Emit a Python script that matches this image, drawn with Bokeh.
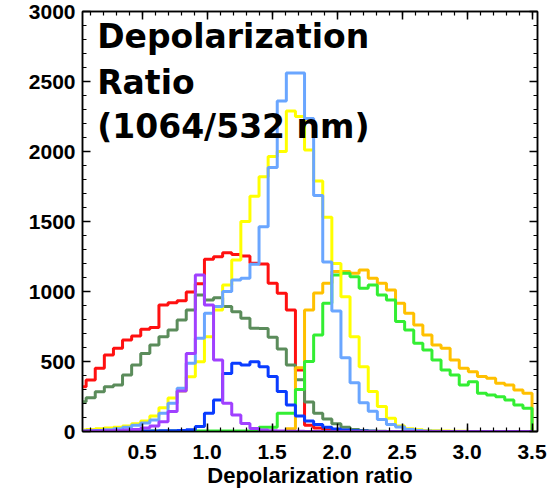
import numpy as np
from bokeh.plotting import figure
from bokeh.models import (LinearAxis, SingleIntervalTicker, NumeralTickFormatter, Range1d, Label,
                          CustomJSTickFormatter)
from bokeh.embed import file_html
from bokeh.resources import INLINE

# histogram bin edges (depolarization ratio), bin width 0.07
bin_width = 0.07
n_bins = 50
edges = np.round(np.arange(n_bins + 1) * bin_width, 3)

red = [320, 368, 451, 546, 594, 654, 682, 730, 742, 904, 920, 934, 996, 1055, 1230, 1249, 1277, 1265, 1254, 1201,
       1196, 1059, 987, 868, 440, 45, 25, 12, 6, 3] + [0] * 20
darkgreen = [213, 241, 284, 320, 332, 404, 475, 558, 618, 677, 725, 796, 868, 975, 939, 956, 892, 856, 809, 737,
             735, 674, 590, 475, 370, 210, 130, 90, 55, 30, 15, 8, 4, 2] + [0] * 16
yellow = [10, 15, 20, 25, 30, 40, 55, 75, 110, 170, 240, 290, 391, 498, 677, 868, 1047, 1225, 1500, 1680,
          1820, 1964, 2000, 2290, 2250, 2010, 1790, 1530, 1200, 963, 677, 463, 285, 178, 94, 40, 20, 12, 8, 5,
          3, 2, 1, 0, 0, 0, 0, 0, 0, 0]
lightblue = [3, 5, 8, 12, 20, 30, 45, 60, 83, 131, 202, 309, 487, 666, 845, 893, 1000, 1083, 1094, 1195,
             1462, 1885, 2360, 2560, 2560, 2235, 1686, 1210, 860, 527, 348, 205, 145, 86, 50, 32, 15, 8, 4, 2] + [0] * 10
blue = [1, 1, 1, 2, 2, 2, 3, 3, 4, 5, 5, 8, 12, 36, 131, 225, 415, 487, 475, 499, 463, 392, 285, 190, 110,
        75, 50, 30, 18, 10, 6, 4, 2] + [0] * 17
purple = [2, 3, 4, 5, 7, 10, 15, 25, 40, 70, 143, 290, 558, 1118, 904, 511, 202, 117, 58, 22, 10, 5, 3, 2, 1] + [0] * 25
orange = [0] * 23 + [20, 455, 868, 990, 1059, 1142, 1142, 1130, 1154, 1094, 1059, 1011, 916, 844, 761, 690, 618,
                     594, 511, 451, 427, 392, 380, 344, 332, 296, 273]
green = [3] * 20 + [30, 30, 130, 130, 300, 500, 690, 916, 1118, 1130, 1106, 1023, 1047, 975, 939, 785, 725, 630,
                    582, 511, 440, 404, 332, 356, 273, 261, 249, 225, 190, 166]

series = [
    (red, "#ff1010"),
    (darkgreen, "#5b8c5b"),
    (orange, "#ffc000"),
    (green, "#33ee33"),
    (yellow, "#ffff00"),
    (lightblue, "#6aa6ff"),
    (blue, "#0a3cff"),
    (purple, "#a040ff"),
]

title_lines = ["Depolarization", "Ratio", "(1064/532 nm)"]
x_label = "Depolarization ratio"

p = figure(width=557, height=491, output_backend="svg", toolbar_location=None,
           x_range=Range1d(0.042, 3.542), y_range=Range1d(0, 3000),
           min_border_left=82, min_border_right=20, min_border_top=11, min_border_bottom=60)
p.xgrid.visible = False
p.ygrid.visible = False
p.outline_line_color = "black"
p.outline_line_width = 1.5
p.background_fill_color = "white"
p.border_fill_color = "white"

for vals, col in series:
    y = list(vals) + [0]
    p.step(x=edges, y=y, mode="after", line_color=col, line_width=3)

bottom = p.below[0]
left = p.left[0]
bottom.ticker = SingleIntervalTicker(interval=0.5, num_minor_ticks=5)
left.ticker = SingleIntervalTicker(interval=500, num_minor_ticks=5)
bottom.formatter = NumeralTickFormatter(format="0.0")

blank = CustomJSTickFormatter(code="return '';")
top = LinearAxis(ticker=SingleIntervalTicker(interval=0.5, num_minor_ticks=5), formatter=blank,
                 major_label_standoff=0)
right = LinearAxis(ticker=SingleIntervalTicker(interval=500, num_minor_ticks=5), formatter=blank,
                   major_label_standoff=0)
p.add_layout(top, "above")
p.add_layout(right, "right")

for ax in [bottom, left, top, right]:
    ax.major_tick_in = 8
    ax.major_tick_out = 0
    ax.minor_tick_in = 4
    ax.minor_tick_out = 0
    ax.axis_line_width = 1.5
    ax.major_tick_line_width = 1.5
    ax.minor_tick_line_width = 1.2
    ax.axis_line_color = "black"
    ax.major_tick_line_color = "black"
    ax.minor_tick_line_color = "black"
    ax.major_label_text_font = "Liberation Sans"
    ax.major_label_text_font_style = "bold"
    ax.major_label_text_font_size = "21px"
    ax.major_label_text_color = "black"

bottom.major_label_standoff = 13
left.major_label_standoff = 7
bottom.axis_label = x_label
bottom.axis_label_text_font = "Liberation Sans"
bottom.axis_label_text_font_style = "bold"
bottom.axis_label_text_font_size = "22px"
bottom.axis_label_text_color = "black"
bottom.axis_label_standoff = 1

baselines = [2823, 2495, 2180]
for txt, yb in zip(title_lines, baselines):
    p.add_layout(Label(x=0.155, y=yb, text=txt, text_font="DejaVu Sans", text_font_style="bold",
                       text_font_size="33px", text_color="black", text_baseline="alphabetic"))

open("out.html", "w").write(file_html(p, INLINE))
